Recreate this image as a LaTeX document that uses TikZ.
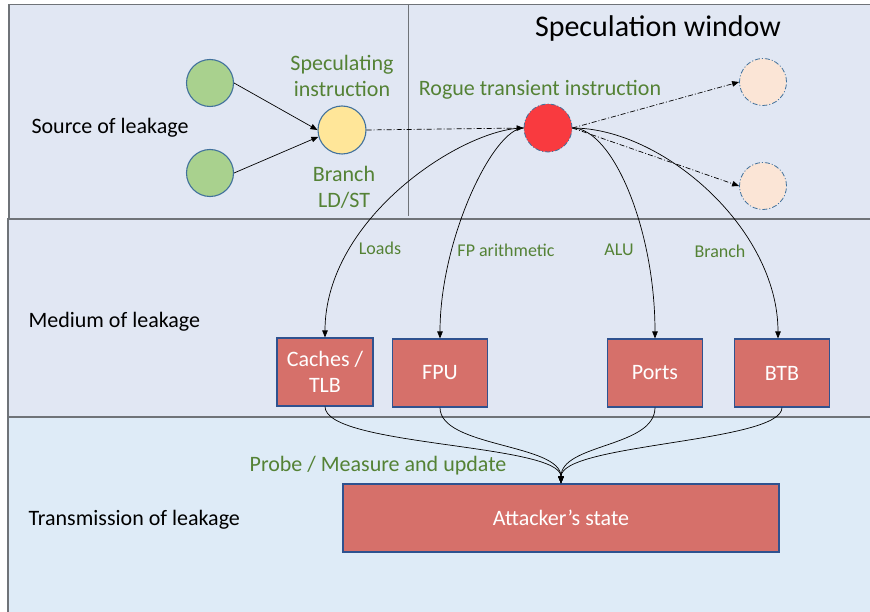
\documentclass[tikz,border=0pt]{standalone}
\usepackage{fontspec}
\setmainfont{Carlito}
\usetikzlibrary{arrows.meta}
\definecolor{panelA}{HTML}{E1E7F3}
\definecolor{panelB}{HTML}{DEEBF7}
\definecolor{frame}{HTML}{6F7378}
\definecolor{txtgreen}{HTML}{548235}
\definecolor{cborder}{HTML}{41719C}
\definecolor{bborder}{HTML}{2F528F}
\definecolor{cgreen}{HTML}{A9D18E}
\definecolor{cyellow}{HTML}{FFE699}
\definecolor{cred}{HTML}{F93A3F}
\definecolor{cfaded}{HTML}{FBE5D6}
\definecolor{boxred}{HTML}{D6706A}

\begin{document}
\begin{tikzpicture}[x=1pt,y=-1pt,
	lbl/.style={font=\fontsize{22}{26}\selectfont},
	glbl/.style={lbl,text=txtgreen,align=center},
	elbl/.style={font=\fontsize{18}{21}\selectfont,text=txtgreen},
	instr/.style={circle,draw=cborder,line width=1.1pt,minimum size=47pt,inner sep=0pt},
	unit/.style={draw=bborder,line width=1.1pt,fill=boxred,text=white,lbl,align=center,inner sep=0pt,minimum height=68pt},
	conn/.style={line width=0.7pt,-{Triangle[length=7pt,width=5.5pt]}},
	dd/.style={dash pattern=on 5pt off 2pt on 1pt off 2pt}
	]

	\useasboundingbox (0,0) rectangle (870,612);
	\clip (0,0) rectangle (870,612);
	\fill [white] (0,0) rectangle (870,612);

	% panels
	\draw [frame, line width=1.5pt, fill=panelA] (9,4.5) rectangle (885,219);
	\draw [frame, line width=1.5pt, fill=panelA] (8,219) rectangle (885,417);
	\draw [frame, line width=1.5pt, fill=panelB] (8,417) rectangle (885,630);
	\draw [frame, line width=1pt] (408,4.5) -- (408,216);

	% rows
	\node [lbl, anchor=west] (src) at (28,128) {Source of leakage};
	\node [lbl, anchor=west] (med) at (25,322) {Medium of leakage};
	\node [lbl, anchor=west] (trn) at (25,520) {Transmission of leakage};
	\node [font=\fontsize{30}{36}\selectfont] (win) at (658,29) {Speculation window};

	% instructions
	\node [instr, fill=cgreen] (g1) at (210,83) {};
	\node [instr, fill=cgreen] (g2) at (210,173) {};
	\node [instr, fill=cyellow, minimum size=48pt] (spec) at (342,130) {};
	\node [instr, fill=cred, dd, line width=0.8pt, minimum size=48pt] (rogue) at (548,128) {};
	\node [instr, fill=cfaded, dd, line width=0.8pt] (f1) at (763,82) {};
	\node [instr, fill=cfaded, dd, line width=0.8pt] (f2) at (763,186) {};
	% label
	\node [glbl] (speclbl) at (342,76) {Speculating\\instruction};
	\node [glbl] (brlbl) at (344,187) {Branch\\LD/ST};
	\node [glbl] (roguelbl) at (540,90) {Rogue transient instruction};

	% units
	\node [unit, minimum width=96pt] (cache) at (325,372) {Caches /\\TLB};
	\node [unit, minimum width=95pt] (fpu) at (440,373) {\raisebox{-2pt}{FPU}};
	\node [unit, minimum width=95pt] (ports) at (655,373) {\raisebox{-2pt}{Ports}};
	\node [unit, minimum width=95pt] (btb) at (782,373) {\raisebox{-2pt}{BTB}};
	\node [unit, minimum width=436pt] (att) at (561,518) {\raisebox{-2pt}{Attacker’s state}};
	% label
	\node [elbl] (ldlbl) at (380,248) {Loads};
	\node [elbl] (fplbl) at (506,250) {FP arithmetic};
	\node [elbl] (alulbl) at (619,250) {ALU};
	\node [elbl] (bralbl) at (720,251) {Branch};
	\node [glbl] (prlbl) at (378,466) {Probe / Measure and update};

	% ->
	\draw [conn] (g1.east) -- (spec.west);
	\draw [conn] (g2.east) -- (spec.196);
	\draw [conn, dd] (spec.east) -- (rogue.west);
	\draw [conn, dd] (rogue.east) -- (f1.west);
	\draw [conn, dd] (rogue.east) -- (f2.west);

	% rogue -> units
	\draw [conn] (rogue.west) .. controls +(-60,0) and +(0,-120) .. (cache.north);
	\draw [conn] (rogue.west) .. controls +(-30,0) and +(0,-100) .. (fpu.north);
	\draw [conn] (rogue.east) .. controls +(40,0) and +(0,-110) .. (ports.north);
	\draw [conn] (rogue.east) .. controls +(90,0) and +(0,-110) .. ([xshift=-4pt]btb.north);

	% units -> attacker
	\draw [conn] (cache.south) .. controls +(0,40) and +(0,-40) .. (att.north);
	\draw [conn] (fpu.south) .. controls +(0,40) and +(0,-40) .. (att.north);
	\draw [conn] (ports.south) .. controls +(0,40) and +(0,-40) .. (att.north);
	\draw [conn] (btb.south) .. controls +(0,35) and +(0,-40) .. (att.north);
\end{tikzpicture}
\end{document}
